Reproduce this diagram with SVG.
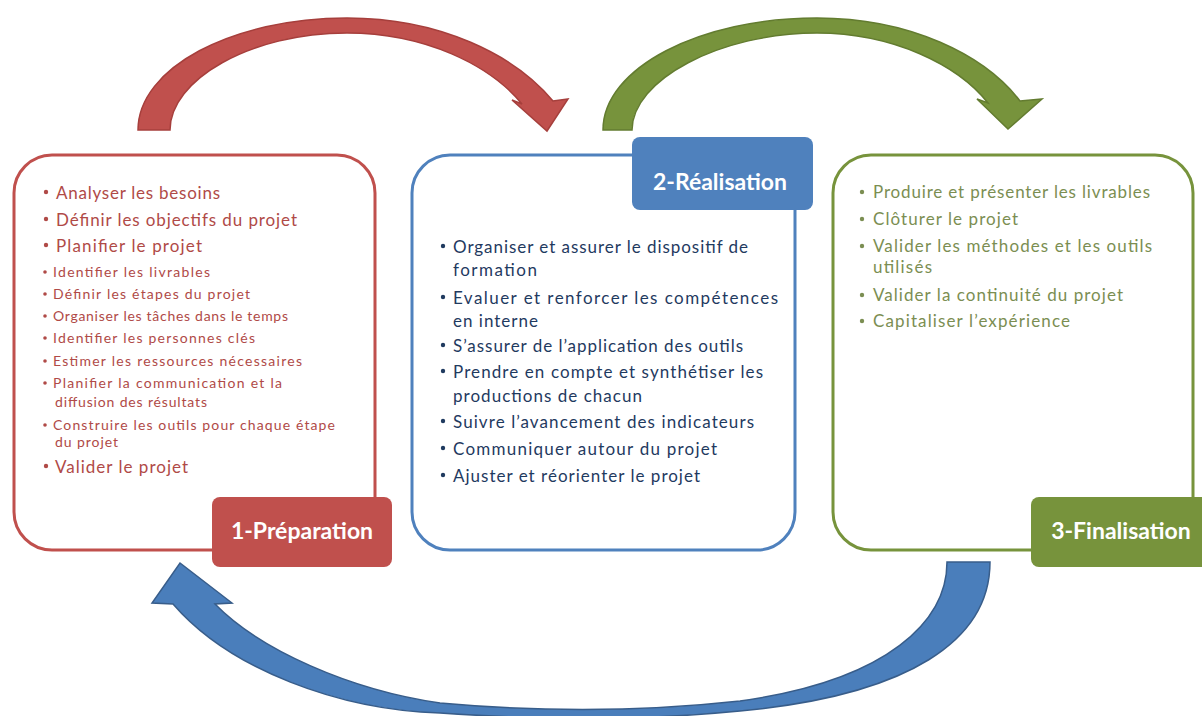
<svg xmlns="http://www.w3.org/2000/svg" width="1202" height="716" viewBox="0 0 1202 716">
<style>
.t{font-family:Lato,"Liberation Sans",sans-serif}
.m{font-size:17px}
.s{font-size:14px}
.r{fill:#b04a47}
.b{fill:#1f3a5f}
.g{fill:#7b8e52}
.box{fill:#fff;stroke-width:3}
.lab{font-family:Lato,"Liberation Sans",sans-serif;font-weight:bold;font-size:23px;fill:#fff}
</style>
<rect width="1202" height="716" fill="#fff"/>
<g id="connectors">
<path id="arrow-red" d="M138,130 C138,68 232,18 347,18 C440,18 515,55 553,101 L568,99 L547,131 L512,100 L522,104 C490,65 425,33 347,33 C250,33 170,80 170,130 Z" fill="#c0504d" stroke="#a63f3c" stroke-width="1.5"/>
<path id="arrow-green" d="M603,130 C603,68 700,18 817,18 C910,18 985,55 1020,101 L1042,99 L1008,129 L977,99 L988,103 C958,65 893,33 817,33 C720,33 632,80 632,130 Z" fill="#77933c" stroke="#637c30" stroke-width="1.5"/>
<path id="arrow-blue" d="M990,562 C990,640 910,695 740,711 C640,721 540,720 440,713 C340,710 230,670 173,604 L152,603 L180,563 L232,603 L215,604 C260,650 350,690 440,703 C540,712 640,712 740,701 C890,680 947,620 947,562 Z" fill="#4a7ebb" stroke="#385d8a" stroke-width="1.5"/>
</g>
<g id="node-preparation">
<rect class="box" x="14" y="155" width="361" height="395" rx="38" stroke="#c0504d"/>
<g fill="#b04a47">
<circle cx="46" cy="192" r="2.2"/><circle cx="46" cy="219" r="2.2"/><circle cx="46" cy="245" r="2.2"/>
<circle cx="45" cy="272" r="1.8"/><circle cx="45" cy="294" r="1.8"/><circle cx="45" cy="316" r="1.8"/><circle cx="45" cy="338" r="1.8"/>
<circle cx="45" cy="361" r="1.8"/><circle cx="45" cy="383" r="1.8"/><circle cx="45" cy="425" r="1.8"/>
<circle cx="46" cy="466" r="2.2"/>
</g>
<text class="t m r" x="56" y="199" textLength="164">Analyser les besoins</text>
<text class="t m r" x="56" y="226" textLength="241">Définir les objectifs du projet</text>
<text class="t m r" x="56" y="252" textLength="146">Planifier le projet</text>
<text class="t s r" x="53" y="277" textLength="157">Identifier les livrables</text>
<text class="t s r" x="53" y="299" textLength="197">Définir les étapes du projet</text>
<text class="t s r" x="53" y="321" textLength="235">Organiser les tâches dans le temps</text>
<text class="t s r" x="53" y="343" textLength="202">Identifier les personnes clés</text>
<text class="t s r" x="53" y="366" textLength="249">Estimer les ressources nécessaires</text>
<text class="t s r" x="53" y="388" textLength="229">Planifier la communication  et la</text>
<text class="t s r" x="55" y="407" textLength="152">diffusion des résultats</text>
<text class="t s r" x="53" y="430" textLength="282">Construire les outils pour chaque étape</text>
<text class="t s r" x="55" y="447" textLength="63">du projet</text>
<text class="t m r" x="55" y="473" textLength="133">Valider le projet</text>
<rect x="212" y="497" width="180" height="70" rx="8" fill="#c0504d"/>
<text class="lab" x="302" y="539" text-anchor="middle">1-Préparation</text>
</g>
<g id="node-realisation">
<rect class="box" x="412" y="155" width="383" height="395" rx="38" stroke="#4f81bd"/>
<rect x="632" y="137" width="181" height="73" rx="8" fill="#4f81bd"/>
<text class="lab" x="720" y="190" text-anchor="middle">2-Réalisation</text>
<g fill="#1f3a5f">
<circle cx="443" cy="246" r="2.2"/><circle cx="443" cy="297" r="2.2"/><circle cx="443" cy="345" r="2.2"/><circle cx="443" cy="371" r="2.2"/>
<circle cx="443" cy="421" r="2.2"/><circle cx="443" cy="448" r="2.2"/><circle cx="443" cy="475" r="2.2"/>
</g>
<text class="t m b" x="453" y="253" textLength="295">Organiser et assurer le dispositif de</text>
<text class="t m b" x="453" y="276" textLength="84">formation</text>
<text class="t m b" x="453" y="304" textLength="325">Evaluer et renforcer les compétences</text>
<text class="t m b" x="453" y="327" textLength="85">en interne</text>
<text class="t m b" x="453" y="352" textLength="290">S’assurer de l’application des outils</text>
<text class="t m b" x="453" y="378" textLength="310">Prendre en compte et synthétiser les</text>
<text class="t m b" x="453" y="402" textLength="189">productions de chacun</text>
<text class="t m b" x="453" y="428" textLength="301">Suivre l’avancement des indicateurs</text>
<text class="t m b" x="453" y="455" textLength="264">Communiquer autour du projet</text>
<text class="t m b" x="453" y="482" textLength="247">Ajuster et réorienter le projet</text>
</g>
<g id="node-finalisation">
<rect class="box" x="833" y="155" width="360" height="395" rx="38" stroke="#77933c"/>
<g fill="#7b8e52">
<circle cx="862" cy="192" r="2.2"/><circle cx="862" cy="219" r="2.2"/><circle cx="862" cy="246" r="2.2"/>
<circle cx="862" cy="295" r="2.2"/><circle cx="862" cy="321" r="2.2"/>
</g>
<text class="t m g" x="873" y="198" textLength="277">Produire et présenter les livrables</text>
<text class="t m g" x="873" y="225" textLength="145">Clôturer le projet</text>
<text class="t m g" x="873" y="252" textLength="279">Valider les méthodes et les outils</text>
<text class="t m g" x="873" y="273" textLength="59">utilisés</text>
<text class="t m g" x="873" y="301" textLength="250">Valider la continuité du projet</text>
<text class="t m g" x="873" y="327" textLength="197">Capitaliser l’expérience</text>
<rect x="1031" y="497" width="180" height="70" rx="8" fill="#77933c"/>
<text class="lab" x="1121" y="539" text-anchor="middle">3-Finalisation</text>
</g>
</svg>
